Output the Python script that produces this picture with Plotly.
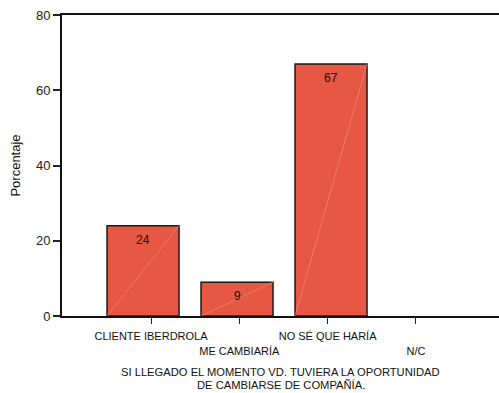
import plotly.graph_objects as go

# Survey responses: percentage per answer
categories = ["CLIENTE IBERDROLA", "ME CAMBIARÍA", "NO SÉ QUE HARÍA", "N/C"]
percentages = [24, 9, 67, 0]
bar_labels = ["24", "9", "67", ""]
# Labels alternate between an upper and a lower row
upper_row = ["CLIENTE IBERDROLA", "", "NO SÉ QUE HARÍA", ""]
lower_row = ["", "ME CAMBIARÍA", "", "N/C"]
title_lines = ["SI LLEGADO EL MOMENTO VD. TUVIERA LA OPORTUNIDAD",
               "DE CAMBIARSE DE COMPAÑÍA."]

positions = list(range(len(categories)))
bar_width = 0.766
FILL = "#E65843"
FONT = "Liberation Sans, Arial, sans-serif"
CAT_RANGE = [-1.008, 3.941]

fig = go.Figure()

fig.add_trace(go.Bar(
    x=positions,
    y=percentages,
    width=bar_width,
    marker=dict(color=FILL,
                line=dict(color="#1a1a1a", width=[1.5 if v > 0 else 0 for v in percentages])),
    xaxis="x2",
    hoverinfo="skip",
    showlegend=False,
))

# Thin diagonal highlight through each bar, bottom-left to top-right
diag_x, diag_y = [], []
for p, v in zip(positions, percentages):
    if v > 0:
        diag_x += [p - bar_width / 2, p + bar_width / 2, None]
        diag_y += [0, v, None]
fig.add_trace(go.Scatter(
    x=diag_x, y=diag_y, mode="lines", xaxis="x2",
    line=dict(color="#F09483", width=0.6),
    hoverinfo="skip", showlegend=False,
))

# Category axes carrying ticks and the two label rows
for ax in ("x", "x3"):
    fig.add_trace(go.Scatter(
        x=categories, y=[None] * len(categories), mode="markers", xaxis=ax,
        hoverinfo="skip", showlegend=False,
    ))

# Value labels just inside the top of each bar
for p, v, lab in zip(positions, percentages, bar_labels):
    if lab:
        fig.add_annotation(
            x=p, y=v, xref="x2", yref="y", text=lab, showarrow=False,
            yshift=-14, yanchor="middle",
            font=dict(family=FONT, size=12, color="#111111"),
        )

# Two-line horizontal axis title
for line, shift in zip(title_lines, (-56, -69)):
    fig.add_annotation(
        x=0.5, y=0, xref="paper", yref="paper", text=line, showarrow=False,
        yshift=shift, yanchor="middle", xanchor="center",
        font=dict(family=FONT, size=11.2, color="#111111"),
    )

fig.update_layout(
    width=499, height=393,
    margin=dict(l=62, r=0, t=15, b=77),
    paper_bgcolor="white", plot_bgcolor="white",
    font=dict(family=FONT, color="#222222"),
    xaxis=dict(
        type="category", range=CAT_RANGE,
        tickvals=categories, ticktext=upper_row, tickangle=0,
        ticks="outside", ticklen=6, tickcolor="#222222", tickwidth=1.2,
        ticklabelstandoff=3,
        tickfont=dict(size=11, family=FONT, color="#111111"),
        showline=True, linecolor="#111111", linewidth=2, mirror=True,
        showgrid=False, zeroline=False, automargin=False,
    ),
    xaxis3=dict(
        type="category", range=CAT_RANGE, overlaying="x", anchor="y",
        tickvals=categories, ticktext=lower_row, tickangle=0,
        ticks="", ticklabelstandoff=27,
        tickfont=dict(size=11, family=FONT, color="#111111"),
        showline=False, showgrid=False, zeroline=False, automargin=False,
    ),
    xaxis2=dict(
        overlaying="x", anchor="y",
        range=[-0.862, 3.787],
        visible=False, showgrid=False, zeroline=False,
    ),
    yaxis=dict(
        range=[0, 80], dtick=20,
        ticks="outside", ticklen=7, tickcolor="#222222", tickwidth=1.5,
        tickfont=dict(size=13, family=FONT, color="#222222"),
        showline=True, linecolor="#111111", linewidth=2,
        showgrid=False, zeroline=False, automargin=False,
        title=dict(text="Porcentaje", font=dict(size=13, family=FONT, color="#111111"), standoff=12),
    ),
)

fig.write_html("out.html")
